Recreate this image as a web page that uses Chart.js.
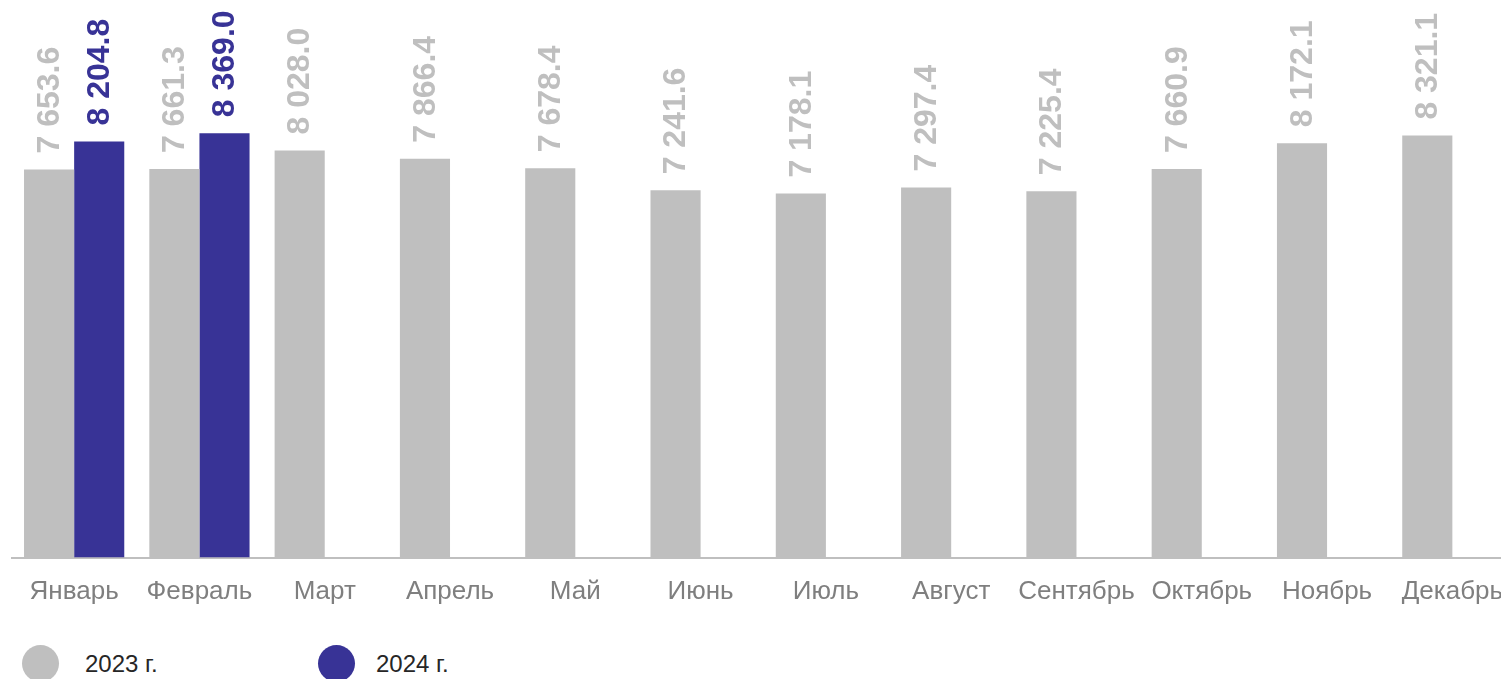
<!DOCTYPE html>
<html lang="ru">
<head>
<meta charset="utf-8">
<title>2023 / 2024</title>
<script src="https://cdn.jsdelivr.net/npm/chart.js@4/dist/chart.umd.min.js"></script>
<style>
  html, body { margin: 0; padding: 0; background: #fff; overflow: hidden; }
  body { width: 1501px; height: 679px; position: relative; }
  #chart { position: absolute; left: 0; top: 0; display: block; }
  .legend-item { position: absolute; top: 645px; height: 37px; }
  .legend-dot { position: absolute; left: 0; top: 0; width: 37px; height: 37px; border-radius: 50%; }
  .legend-text { position: absolute; top: 7px; white-space: nowrap; font: 24px 'Liberation Sans', Arial, sans-serif; line-height: 24px; color: #262626; }
</style>
</head>
<body>
<canvas id="chart" width="1515" height="630"></canvas>
<div id="legend"></div>
<script>
  // ---- data ----
  const months = ['Январь', 'Февраль', 'Март', 'Апрель', 'Май', 'Июнь', 'Июль', 'Август', 'Сентябрь', 'Октябрь', 'Ноябрь', 'Декабрь'];
  const values2023 = [7653.6, 7661.3, 8028.0, 7866.4, 7678.4, 7241.6, 7178.1, 7297.4, 7225.4, 7660.9, 8172.1, 8321.1];
  const values2024 = [8204.8, 8369.0, null, null, null, null, null, null, null, null, null, null];
  const seriesLabels = ['2023 г.', '2024 г.'];
  const seriesColors = ['#BFBFBF', '#383396'];

  // 7653.6 -> "7 653.6"
  function fmt(v) {
    const parts = v.toFixed(1).split('.');
    return parts[0].replace(/\B(?=(\d{3})+(?!\d))/g, ' ') + '.' + parts[1];
  }

  // vertical value labels above bars (no datalabels plugin offline)
  const barLabels = {
    id: 'barLabels',
    afterDatasetsDraw(chart) {
      const ctx = chart.ctx;
      chart.data.datasets.forEach((ds, i) => {
        const meta = chart.getDatasetMeta(i);
        meta.data.forEach((bar, j) => {
          const v = ds.data[j];
          if (v === null || v === undefined) return;
          ctx.save();
          ctx.translate(bar.x, bar.y - 16);
          ctx.rotate(-Math.PI / 2);
          ctx.font = "bold 32px 'Liberation Sans', Arial, sans-serif";
          ctx.fillStyle = ds.backgroundColor;
          ctx.textAlign = 'left';
          ctx.textBaseline = 'middle';
          ctx.fillText(fmt(v), 0, 1);
          ctx.restore();
        });
      });
    }
  };

  new Chart(document.getElementById('chart'), {
    type: 'bar',
    data: {
      labels: months,
      datasets: [
        { label: seriesLabels[0], data: values2023, backgroundColor: seriesColors[0] },
        { label: seriesLabels[1], data: values2024, backgroundColor: seriesColors[1] }
      ]
    },
    options: {
      responsive: false,
      animation: false,
      devicePixelRatio: 1,
      categoryPercentage: 0.8,
      barPercentage: 1.0,
      layout: { padding: { left: 11.5, right: 0, top: 50.5, bottom: 0 } },
      plugins: {
        legend: { display: false },
        tooltip: { enabled: false }
      },
      scales: {
        x: {
          // tickLength pushes labels down; ticks.padding would also add side padding
          grid: { display: false, drawTicks: true, tickLength: 19 },
          border: { display: true, color: '#BFBFBF', width: 2 },
          ticks: {
            color: '#7F7F7F',
            padding: 0,
            maxRotation: 0,
            autoSkip: false,
            font: { family: "'Liberation Sans', Arial, sans-serif", size: 26 }
          },
          afterFit(scale) { scale.height = 72.5; }
        },
        y: {
          display: false,
          min: 0,
          max: 10000
        }
      }
    },
    plugins: [barLabels]
  });

  // legend
  const legend = document.getElementById('legend');
  const legendX = [22, 318];
  seriesLabels.forEach((lab, i) => {
    const item = document.createElement('div');
    item.className = 'legend-item';
    item.style.left = legendX[i] + 'px';
    item.innerHTML = '<div class="legend-dot" style="background:' + seriesColors[i] + '"></div>' +
      '<span class="legend-text" style="left:' + (i === 0 ? 63 : 58) + 'px">' + lab + '</span>';
    legend.appendChild(item);
  });
</script>
</body>
</html>
